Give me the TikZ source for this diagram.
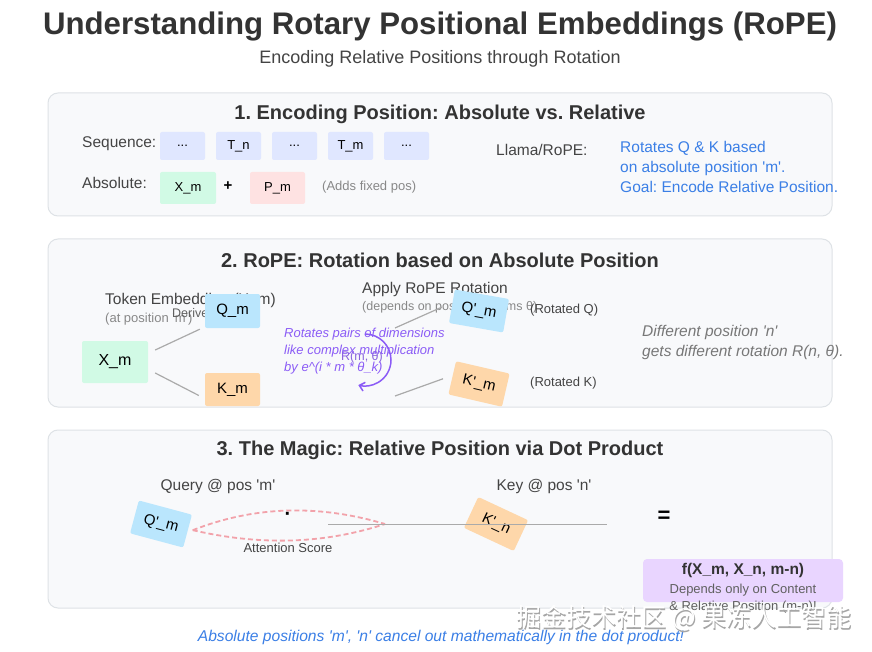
\documentclass[tikz,border=0pt]{standalone}
\usepackage{fontspec}
\setmainfont{Liberation Sans}[Ligatures=TeXOff]
\newfontfamily\cjkfont{Noto Sans CJK SC}
\usetikzlibrary{calc,arrows.meta}

\definecolor{inkdark}{HTML}{333333}
\definecolor{inklabel}{HTML}{444444}
\definecolor{inksoft}{HTML}{888888}
\definecolor{inkgrey}{HTML}{777777}
\definecolor{panelfill}{HTML}{F8F9FB}
\definecolor{panelline}{HTML}{DEE2E6}
\definecolor{seqfill}{HTML}{E0E7FF}
\definecolor{embfill}{HTML}{D1FAE5}
\definecolor{posfill}{HTML}{FEE2E2}
\definecolor{qfill}{HTML}{BAE6FD}
\definecolor{kfill}{HTML}{FED7AA}
\definecolor{resfill}{HTML}{E9D5FF}
\definecolor{noteblue}{HTML}{3B7FE6}
\definecolor{notepurple}{HTML}{8B5CF6}
\definecolor{lensred}{HTML}{F2A2AA}
\definecolor{linkgray}{HTML}{AAAAAA}

\newcommand{\pxsize}[1]{\fontsize{#1}{#1}\selectfont}
\frenchspacing

\begin{document}
\begin{tikzpicture}[x=1pt, y=-1pt,
    panel/.style={draw=panelline, fill=panelfill, rounded corners=10pt, line width=1pt},
    head/.style={text=inkdark, font=\pxsize{20}\bfseries},
    label/.style={text=inklabel, font=\pxsize{15.5}, anchor=west, inner sep=0pt},
    note/.style={text=inksoft, font=\pxsize{13}, anchor=west, inner sep=0pt},
    tokbox/.style={rounded corners=2pt, inner sep=0pt, font=\pxsize{13}, text=black,
        minimum width=55pt, minimum height=34pt},
    seqbox/.style={tokbox, fill=seqfill, minimum width=45pt, minimum height=28pt},
    embbox/.style={tokbox, fill=embfill},
    posbox/.style={tokbox, fill=posfill},
    qbox/.style={tokbox, fill=qfill, font=\pxsize{15}},
    kbox/.style={tokbox, fill=kfill, font=\pxsize{15}},
    link/.style={draw=linkgray, line width=1.2pt},
    lens/.style={draw=lensred, dashed, line width=1.8pt, dash pattern=on 5pt off 3pt}]

    \useasboundingbox (0,0) rectangle (872,652);
    \fill[white] (0,0) rectangle (872,652);

    % Title
    \node[text=inkdark, font=\pxsize{31.2}\bfseries] (title) at (440,27) {Understanding Rotary Positional Embeddings (RoPE)};
    \node[text=inklabel, font=\pxsize{18}] (subtitle) at (440,59) {Encoding Relative Positions through Rotation};

    % Panel 1
    \draw[panel] (48,93) rectangle (832,216);
    \node[head] (head1) at (440,114) {1. Encoding Position: Absolute vs. Relative};
    \node[label] (seqlabel) at (82,144) {Sequence:};
    \node[seqbox] (s1) at (182.5,146) {...};
    \node[seqbox] (s2) at (238.5,146) {T\_n};
    \node[seqbox] (s3) at (294.5,146) {...};
    \node[seqbox] (s4) at (350.5,146) {T\_m};
    \node[seqbox] (s5) at (406.5,146) {...};
    \node[label] (abslabel) at (82,183) {Absolute:};
    \node[embbox, minimum width=56pt, minimum height=32pt] (xabs) at (188,188) {X\_m};
    \node[font=\pxsize{15}\bfseries] (plus) at (228,186) {+};
    \node[posbox, minimum height=32pt] (pabs) at (277.5,188) {P\_m};
    \node[note] (addsnote) at (322,187) {(Adds fixed pos)};
    \node[label] (llama) at (496,150) {Llama/RoPE:};
    \node[text=noteblue, font=\fontsize{15.5}{20}\selectfont, align=left, anchor=north west, inner sep=0pt] (ropenote) at (620,141)
        {Rotates Q \& K based\\on absolute position 'm'.\\Goal: Encode Relative Position.};

    % Panel 2
    \draw[panel] (48,239) rectangle (832,407);
    \node[head] (head2) at (440,260) {2. RoPE: Rotation based on Absolute Position};
    \node[label] (toklabel) at (105,300) {Token Embedding (X\_m)};
    \node[note] (tokpos) at (105,319) {(at position 'm')};
    \node[note, font=\pxsize{12.5}, text=inklabel!85] (derive) at (172,313) {Derive};
    \node[label] (applylabel) at (362,289) {Apply RoPE Rotation};
    \node[note, font=\pxsize{12.5}] (applynote) at (362,307) {(depends on pos 'm', params θ)};
    \node[embbox, minimum width=66pt, minimum height=42pt, font=\pxsize{16}] (xm) at (115,362) {X\_m};
    \node[qbox] (qm) at (232.5,311) {Q\_m};
    \node[kbox, minimum height=33pt] (km) at (232.5,389.5) {K\_m};
    \draw[link] ($(xm.east)+(7,-12)$) -- ($(qm.south west)+(-5,1)$);
    \draw[link] ($(xm.east)+(7,11)$) -- ($(km.west)+(-6,6)$);
    % rotation arrow
    \draw[notepurple, line width=1.5pt, -{Straight Barb[length=5pt, width=9pt]}] (365,334) arc[start angle=-90, end angle=105, radius=26];
    \node[text=notepurple!80!gray, font=\pxsize{12.5}] (rlabel) at (362,357) {R(m, θ)};
    \node[text=notepurple, font=\fontsize{13}{17}\selectfont\itshape, align=left, anchor=north west, inner sep=0pt] (rotnote) at (284,328)
        {Rotates pairs of dimensions\\like complex multiplication\\by e\^{}(i * m * θ\_k)};
    \node[qbox, rotate=-10] (qrot) at (479,311) {Q'\_m};
    \node[kbox, rotate=-13] (krot) at (479,384) {K'\_m};
    \coordinate (qfrom) at (395,328);
    \coordinate (kfrom) at (395,396);
    \draw[link] (qfrom) -- ($(qrot.west)+(-10,1)$);
    \draw[link] (kfrom) -- ($(krot.west)+(-9,1)$);
    \node[note, text=inklabel] (rotq) at (530,310) {(Rotated Q)};
    \node[note, text=inklabel] (rotk) at (530,383) {(Rotated K)};
    \node[text=inkgrey, font=\fontsize{15.5}{20}\selectfont\itshape, align=left, anchor=north west, inner sep=0pt] (diffnote) at (642,325)
        {Different position 'n'\\gets different rotation R(n, θ).};

    % Panel 3
    \draw[panel] (48,430) rectangle (832,608);
    \node[head] (head3) at (440,450) {3. The Magic: Relative Position via Dot Product};
    \node[label, anchor=center] (querylabel) at (218,486) {Query @ pos 'm'};
    \node[label, anchor=center] (keylabel) at (544,486) {Key @ pos 'n'};
    \node[qbox, rotate=-15] (qdot) at (161,524) {Q'\_m};
    \node[kbox, rotate=-25] (kdot) at (496,524) {K'\_n};
    \coordinate (lensend) at (385,524);
    \draw[lens] ($(qdot.east)+(5,-1)$) .. controls (257,505) and (321,505) .. (lensend);
    \draw[lens] ($(qdot.east)+(5,-1)$) .. controls (257,545) and (321,545) .. (lensend);
    \node[font=\pxsize{20}\bfseries] (dotsym) at (288,516) {·};
    \node[note, anchor=center, text=inklabel] (attn) at (288,548) {Attention Score};
    \coordinate (dotline) at (328,524);
    \coordinate (keyline) at (607,524);
    \draw[link, line width=1pt] (dotline) -- (keyline);
    \node[font=\pxsize{22}\bfseries] (equals) at (664,517) {=};
    \node[tokbox, fill=resfill, minimum width=200pt, minimum height=43pt, rounded corners=4pt] (fbox) at (743,580.5) {};
    \node[font=\pxsize{15.5}\bfseries, text=inkdark] (ftext) at (743,570) {f(X\_m, X\_n, m-n)};
    \node[font=\pxsize{13}, text=inklabel!85] (fline1) at (743,590) {Depends only on Content};
    \node[font=\pxsize{13}, text=inklabel!85] (fline2) at (743,607) {\& Relative Position (m-n)!};

    % Footer
    \node[text=noteblue, font=\pxsize{15.6}\itshape] (footer) at (441,637) {Absolute positions 'm', 'n' cancel out mathematically in the dot product!};
    \node[text=gray!70, font=\pxsize{25}\cjkfont] at (685,620) {掘金技术社区 @ 果冻人工智能};
    \node[text=white, font=\pxsize{25}\cjkfont] (mark) at (684,618) {掘金技术社区 @ 果冻人工智能};
\end{tikzpicture}
\end{document}
